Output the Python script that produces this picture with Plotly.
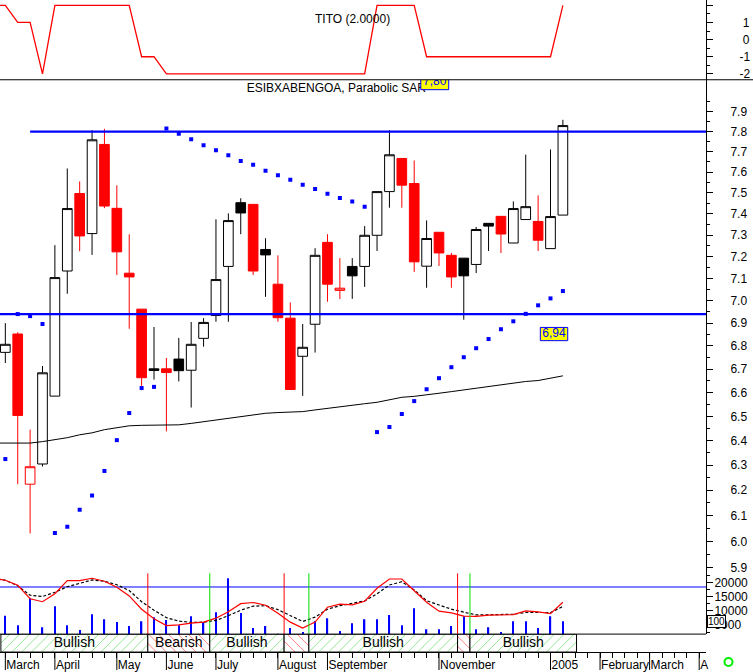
import pandas as pd
import plotly.graph_objects as go

# ---------------- data ----------------
dates = pd.date_range("2004-03-05", periods=46, freq="7D")   # weekly bars
prev_date = dates[0] - pd.Timedelta(days=7)

open_ = [6.772, 6.852, 6.224, 6.305, 6.585, 7.134, 7.497, 7.307, 7.736, 7.426,
         7.124, 6.962, 6.701, 6.701, 6.743, 6.695, 6.833, 6.934, 7.155, 7.453,
         7.445, 7.233, 7.074, 6.922, 6.755, 6.895, 7.266, 7.046, 7.155, 7.155,
         7.299, 7.506, 7.667, 7.545, 7.156, 7.313, 7.206, 7.193, 7.164, 7.355,
         7.388, 7.263, 7.373, 7.364, 7.237, 7.394]
high = [6.900, 6.860, 6.445, 6.713, 7.253, 7.618, 7.555, 7.807, 7.814, 7.536,
        7.304, 6.962, 6.883, 6.748, 6.835, 6.905, 6.922, 7.374, 7.402, 7.474,
        7.445, 7.285, 7.206, 6.992, 6.896, 7.239, 7.304, 7.193, 7.193, 7.342,
        7.506, 7.807, 7.667, 7.657, 7.369, 7.313, 7.217, 7.193, 7.338, 7.355,
        7.388, 7.459, 7.686, 7.488, 7.711, 7.859]
low = [6.726, 6.224, 6.031, 6.295, 6.585, 7.031, 7.225, 7.208, 7.427, 7.116,
       6.875, 6.628, 6.655, 6.438, 6.647, 6.537, 6.797, 6.906, 6.906, 7.304,
       7.116, 7.017, 6.906, 6.613, 6.586, 6.771, 6.995, 7.007, 7.008, 7.062,
       7.226, 7.429, 7.429, 7.130, 7.058, 7.157, 7.058, 6.915, 7.125, 7.226,
       7.217, 7.263, 7.373, 7.226, 7.237, 7.394]
close = [6.807, 6.504, 6.294, 6.684, 7.104, 7.425, 7.296, 7.759, 7.437, 7.222,
         7.107, 6.663, 6.694, 6.685, 6.693, 6.807, 6.903, 7.095, 7.368, 7.404,
         7.134, 7.208, 6.924, 6.613, 6.794, 7.206, 7.074, 7.056, 7.112, 7.299,
         7.506, 7.685, 7.537, 7.176, 7.284, 7.217, 7.107, 7.112, 7.326, 7.342,
         7.305, 7.425, 7.434, 7.276, 7.387, 7.830]

sar = [6.325, 6.940, 6.931, 6.896, 6.033, 6.057, 6.123, 6.179, 6.277, 6.402,
       6.514, 6.619, 6.624, 7.815, 7.789, 7.762, 7.732, 7.707, 7.683, 7.655,
       7.636, 7.607, 7.585, 7.563, 7.539, 7.518, 7.496, 7.475, 7.458, 7.434,
       6.435, 6.456, 6.510, 6.564, 6.614, 6.661, 6.708, 6.751, 6.790, 6.830,
       6.873, 6.908, 6.941, 6.979, 7.010, 7.043]

ma_prev = 6.390
ma = [6.390, 6.390, 6.390, 6.396, 6.404, 6.412, 6.424, 6.432, 6.445, 6.453,
      6.461, 6.463, 6.463, 6.465, 6.465, 6.471, 6.478, 6.484, 6.492, 6.498,
      6.507, 6.513, 6.516, 6.519, 6.520, 6.527, 6.534, 6.539, 6.545, 6.553,
      6.559, 6.569, 6.580, 6.584, 6.589, 6.597, 6.604, 6.611, 6.618, 6.624,
      6.633, 6.641, 6.647, 6.651, 6.660, 6.671]

tito_prev = 2
tito = [2, 1, 1, -2, 2, 2, 2, 2, 2, 2,
        2, -1, -1, -2, -2, -2, -2, -2, -2, -2,
        -2, -2, -2, -2, -2, -2, -2, -2, -2, -2,
        2, 2, 2, 2, -1, -1, -1, -1, -1, -1,
        -1, -1, -1, -1, -1, 2]

volume = [8200, 4900, 14400, 4200, 11600, 4900, 3200, 8800, 7000, 6000,
          4600, 6300, 7700, 6700, 4900, 8100, 6000, 9500, 21500, 9200,
          3900, 4600, 1900, 3900, 2500, 6400, 7400, 2900, 5600, 7000,
          7000, 8500, 4900, 10900, 3500, 3500, 4600, 8100, 3500, 4200,
          2500, 6300, 6300, 3900, 8100, 6300]

osc_prev = 21480
osc = [20770, 19010, 14260, 13200, 16020, 20670, 20670, 21480, 20420, 18310,
       15250, 10560, 7220, 4750, 5040, 5630, 5990, 7390, 9680, 12500,
       12920, 11970, 9160, 5990, 3870, 5990, 11270, 12320, 12080, 13380,
       17960, 21230, 21230, 17080, 13030, 9860, 9260, 8100, 7990, 8450,
       8560, 8630, 9960, 9610, 8980, 13030]
osc_signal_prev = 21480
osc_signal = [20770, 18840, 15490, 15040, 16550, 18490, 19720, 20880, 20420, 19190,
              17150, 13200, 10210, 7570, 6340, 5880, 5990, 6580, 8270, 10210,
              11620, 11800, 10390, 8270, 6230, 7750, 10560, 11800, 12680, 13490,
              16020, 19120, 20250, 17360, 13560, 12150, 10560, 9510, 8560, 8560,
              8630, 8800, 9400, 9400, 9400, 11510]
osc_level = 18400

resistance_level = 7.80
resistance_from = "2004-03-19"
support_level = 6.94

trend_labels = ["Bullish", "Bearish", "Bullish", "Bearish", "Bullish", "Bearish", "Bullish"]
trend_edges = ["2004-03-02 12:00", "2004-05-24 12:00", "2004-06-28 12:00", "2004-08-09 12:00",
               "2004-08-23 12:00", "2004-11-15 12:00", "2004-11-22 12:00", "2005-01-21 17:00"]

month_ticks = ["2004-03-05", "2004-04-02", "2004-05-07", "2004-06-04", "2004-07-02",
               "2004-08-06", "2004-09-03", "2004-11-05", "2005-01-07", "2005-02-04",
               "2005-03-04", "2005-04-01"]
month_text = ["March", "April", "May", "June", "July", "August", "September",
              "November", "2005", "February", "March", "A"]

price_ticks = [5.9, 6.0, 6.1, 6.2, 6.3, 6.4, 6.5, 6.6, 6.7, 6.8, 6.9,
               7.0, 7.1, 7.2, 7.3, 7.4, 7.5, 7.6, 7.7, 7.8, 7.9]
osc_ticks = [5000, 10000, 15000, 20000]
tito_ticks = [-2, -1, 0, 1, 2]

# ---------------- layout constants ----------------
W, H = 753, 672
PLOT_W = 706
FONT = "Liberation Sans, Arial, sans-serif"
X_RANGE = ["2004-03-01 23:45", "2005-04-04 20:24"]


def py(p):
    """pixel row -> paper y"""
    return 1 - p / H


def px(p):
    """pixel column -> paper x"""
    return p / PLOT_W


fig = go.Figure()

# ---- TITO panel ----
fig.add_trace(go.Scatter(x=[prev_date] + list(dates), y=[tito_prev] + tito, mode="lines",
                         line=dict(color="#FF0000", width=1.3), xaxis="x", yaxis="y",
                         hoverinfo="skip", showlegend=False))

# ---- main panel: title as trace so the label box can sit on top of it ----
fig.add_trace(go.Scatter(x=[pd.Timestamp("2004-09-08")], y=[8.0145], mode="text",
                         text=["ESIBXABENGOA, Parabolic SAR"],
                         textfont=dict(family=FONT, size=12, color="black"),
                         cliponaxis=False, xaxis="x", yaxis="y2", hoverinfo="skip",
                         showlegend=False))

# support / resistance
fig.add_trace(go.Scatter(x=[resistance_from, "2005-04-20"], y=[resistance_level] * 2,
                         mode="lines", line=dict(color="#0000FF", width=2.3),
                         xaxis="x", yaxis="y2", hoverinfo="skip", showlegend=False))
fig.add_trace(go.Scatter(x=["2004-02-01", "2005-04-20"], y=[support_level] * 2,
                         mode="lines", line=dict(color="#0000FF", width=2.3),
                         xaxis="x", yaxis="y2", hoverinfo="skip", showlegend=False))

# moving average
fig.add_trace(go.Scatter(x=[prev_date] + list(dates), y=[ma_prev] + ma, mode="lines",
                         line=dict(color="black", width=1), xaxis="x", yaxis="y2",
                         hoverinfo="skip", showlegend=False))

# candles: hollow = close > open, red = close below previous close
styles = {(True, True): ("black", "white"), (True, False): ("#FF0000", "white"),
          (False, True): ("black", "black"), (False, False): ("#FF0000", "#FF0000")}
kinds = []
for i in range(len(dates)):
    rising = close[i] > open_[i]
    higher = i == 0 or close[i] >= close[i - 1]
    kinds.append((rising, higher))
for key, (lc, fc) in styles.items():
    idx = [i for i, k in enumerate(kinds) if k == key]
    if not idx:
        continue
    st = dict(line=dict(color=lc, width=1), fillcolor=fc)
    fig.add_trace(go.Candlestick(
        x=[dates[i] for i in idx], open=[open_[i] for i in idx], high=[high[i] for i in idx],
        low=[low[i] for i in idx], close=[close[i] for i in idx],
        increasing=st, decreasing=st, whiskerwidth=0, xaxis="x", yaxis="y2",
        hoverinfo="skip", showlegend=False))

# parabolic SAR
fig.add_trace(go.Scatter(x=dates, y=sar, mode="markers",
                         marker=dict(symbol="square", size=4, color="#0000FF"),
                         xaxis="x", yaxis="y2", hoverinfo="skip", showlegend=False))


# value labels (yellow boxes), drawn as clipped traces
def value_box(x0, x1, y0, y1, xc, yc, txt):
    fig.add_trace(go.Scatter(x=[x0, x1, x1, x0, x0], y=[y0, y0, y1, y1, y0], mode="lines",
                             fill="toself", fillcolor="#FFFF00",
                             line=dict(color="#0000FF", width=1), xaxis="x", yaxis="y2",
                             hoverinfo="skip", showlegend=False))
    fig.add_trace(go.Scatter(x=[xc], y=[yc], mode="text", text=[txt],
                             textfont=dict(family=FONT, size=12, color="#0000FF"),
                             xaxis="x", yaxis="y2", hoverinfo="skip", showlegend=False))


value_box("2004-10-25 17:00", "2004-11-10 12:00", 8.012, 8.084, "2004-11-02 14:00", 8.050,
          f"{resistance_level:.2f}".replace(".", ","))
value_box("2005-01-01 06:00", "2005-01-16 17:30", 6.823, 6.881, "2005-01-09 00:00", 6.852,
          f"{support_level:.2f}".replace(".", ","))

# ---- oscillator / volume panel ----
fig.add_trace(go.Bar(x=dates, y=volume, width=0.75 * 86400000, marker_color="#0000FF",
                     marker_line_width=0, xaxis="x", yaxis="y3", hoverinfo="skip",
                     showlegend=False))
fig.add_trace(go.Scatter(x=["2004-02-01", "2005-04-20"], y=[osc_level] * 2, mode="lines",
                         line=dict(color="#0000FF", width=1), xaxis="x", yaxis="y3",
                         hoverinfo="skip", showlegend=False))
fig.add_trace(go.Scatter(x=[prev_date] + list(dates), y=[osc_signal_prev] + osc_signal,
                         mode="lines", line=dict(color="black", width=1.2, dash="3px,2px"),
                         xaxis="x", yaxis="y3", hoverinfo="skip", showlegend=False))
fig.add_trace(go.Scatter(x=[prev_date] + list(dates), y=[osc_prev] + osc, mode="lines",
                         line=dict(color="#FF0000", width=1.2), xaxis="x", yaxis="y3",
                         hoverinfo="skip", showlegend=False))

# ---- trend band ----
edges = pd.to_datetime(trend_edges)
mids = [edges[i] + (edges[i + 1] - edges[i]) / 2 for i in range(len(trend_labels))]
widths = [(edges[i + 1] - edges[i]).total_seconds() * 1000 for i in range(len(trend_labels))]
bull = [lab == "Bullish" for lab in trend_labels]
fig.add_trace(go.Bar(
    x=mids, y=[1] * len(mids), base=0, width=widths, xaxis="x", yaxis="y4",
    marker=dict(color="white", line=dict(color="black", width=1),
                pattern=dict(shape=["/" if b else "\\" for b in bull],
                             fgcolor=["#22CC22" if b else "#FF0000" for b in bull],
                             bgcolor="white", size=7, solidity=0.14)),
    hoverinfo="skip", showlegend=False))
fig.add_trace(go.Scatter(
    x=mids, y=[0.5] * len(mids), mode="text",
    text=[lab if w >= 3 * 7 * 86400000 else "" for lab, w in zip(trend_labels, widths)],
    textfont=dict(family=FONT, size=14, color="black"), cliponaxis=False,
    xaxis="x", yaxis="y4", hoverinfo="skip", showlegend=False))

shapes = []
# trend change signals in oscillator panel
for i in range(1, len(trend_labels)):
    shapes.append(dict(type="line", xref="x", yref="y3 domain", x0=edges[i], x1=edges[i],
                       y0=0, y1=1, line=dict(color="#00DD00" if bull[i] else "#FF0000", width=1)))
# long month ticks
for m in month_ticks:
    shapes.append(dict(type="line", xref="x", yref="paper", x0=m, x1=m, y0=0, y1=py(654),
                       line=dict(color="black", width=1)))
# panel separators
shapes.append(dict(type="line", xref="paper", yref="paper", x0=0, x1=W / PLOT_W,
                   y0=py(80), y1=py(80), line=dict(color="black", width=1)))
shapes.append(dict(type="line", xref="paper", yref="paper", x0=0, x1=1,
                   y0=py(636), y1=py(636), line=dict(color="black", width=1)))
# green status circle
shapes.append(dict(type="circle", xref="paper", yref="paper", x0=px(724.5), x1=px(732.5),
                   y0=py(668), y1=py(660), line=dict(color="#00EE00", width=2)))

annotations = [
    dict(text="TITO (2.0000)", x=px(352), y=py(10), xref="paper", yref="paper",
         showarrow=False, font=dict(family=FONT, size=12, color="black")),
    dict(text="100", x=px(707), y=py(630), xref="paper", yref="paper", xanchor="left",
         showarrow=False, bgcolor="white", bordercolor="black", borderwidth=1, borderpad=0,
         font=dict(family=FONT, size=10, color="black")),
]

axis_common = dict(side="right", anchor="x", showline=True, linecolor="black", linewidth=1,
                   ticks="outside", ticklen=6, tickcolor="black", showgrid=False,
                   zeroline=False, tickfont=dict(family=FONT, size=12, color="black"),
                   fixedrange=True)

fig.update_layout(
    width=W, height=H, margin=dict(l=0, r=W - PLOT_W, t=0, b=0),
    paper_bgcolor="white", plot_bgcolor="white", showlegend=False,
    boxgap=0.22, boxgroupgap=0,
    shapes=shapes, annotations=annotations,
    xaxis=dict(domain=[0, 1], anchor="y4", type="date", range=X_RANGE,
               rangeslider=dict(visible=False), showgrid=False, zeroline=False,
               showline=True, linecolor="black", linewidth=1,
               tickmode="array", tickvals=month_ticks, ticktext=month_text,
               ticks="outside", ticklen=5, tickcolor="black", tickangle=0,
               ticklabelposition="outside right", ticklabelstandoff=2,
               tickfont=dict(family=FONT, size=12, color="black"),
               minor=dict(ticks="outside", ticklen=5, tickcolor="black",
                          dtick=7 * 86400000, tick0="2004-03-05", showgrid=False),
               fixedrange=True),
    yaxis=dict(domain=[py(80), 1], range=[-2.343, 2.308], tickmode="array",
               tickvals=tito_ticks,
               ticktext=[("\u2008" + str(v)) if v >= 0 else str(v) for v in tito_ticks[:-1]] + [""],
               ticklabelstandoff=24,
               minor=dict(ticks="outside", ticklen=3, tickcolor="black", dtick=0.5, tick0=0),
               **axis_common),
    yaxis2=dict(domain=[py(575), py(80)], type="log", range=[0.76930, 0.90650],
                tickmode="array", tickvals=price_ticks, ticktext=[f"{v:.1f}" for v in price_ticks],
                ticklabelstandoff=15,
                minor=dict(ticks="outside", ticklen=3, tickcolor="black",
                           tickvals=[round(v + 0.05, 2) for v in price_ticks]),
                **axis_common),
    yaxis3=dict(domain=[py(636), py(575)], range=[1760, 23240], tickmode="array",
                tickvals=osc_ticks, ticktext=[str(v) for v in osc_ticks], ticklabelstandoff=-1,
                minor=dict(ticks="outside", ticklen=3, tickcolor="black", dtick=2500, tick0=0),
                **axis_common),
    yaxis4=dict(domain=[py(654), py(636)], range=[0, 1], anchor="x", visible=False,
                fixedrange=True),
)

fig.write_html("out.html", config={"displayModeBar": False},
               post_script="document.body.style.margin='0px';document.body.style.padding='0px';")
